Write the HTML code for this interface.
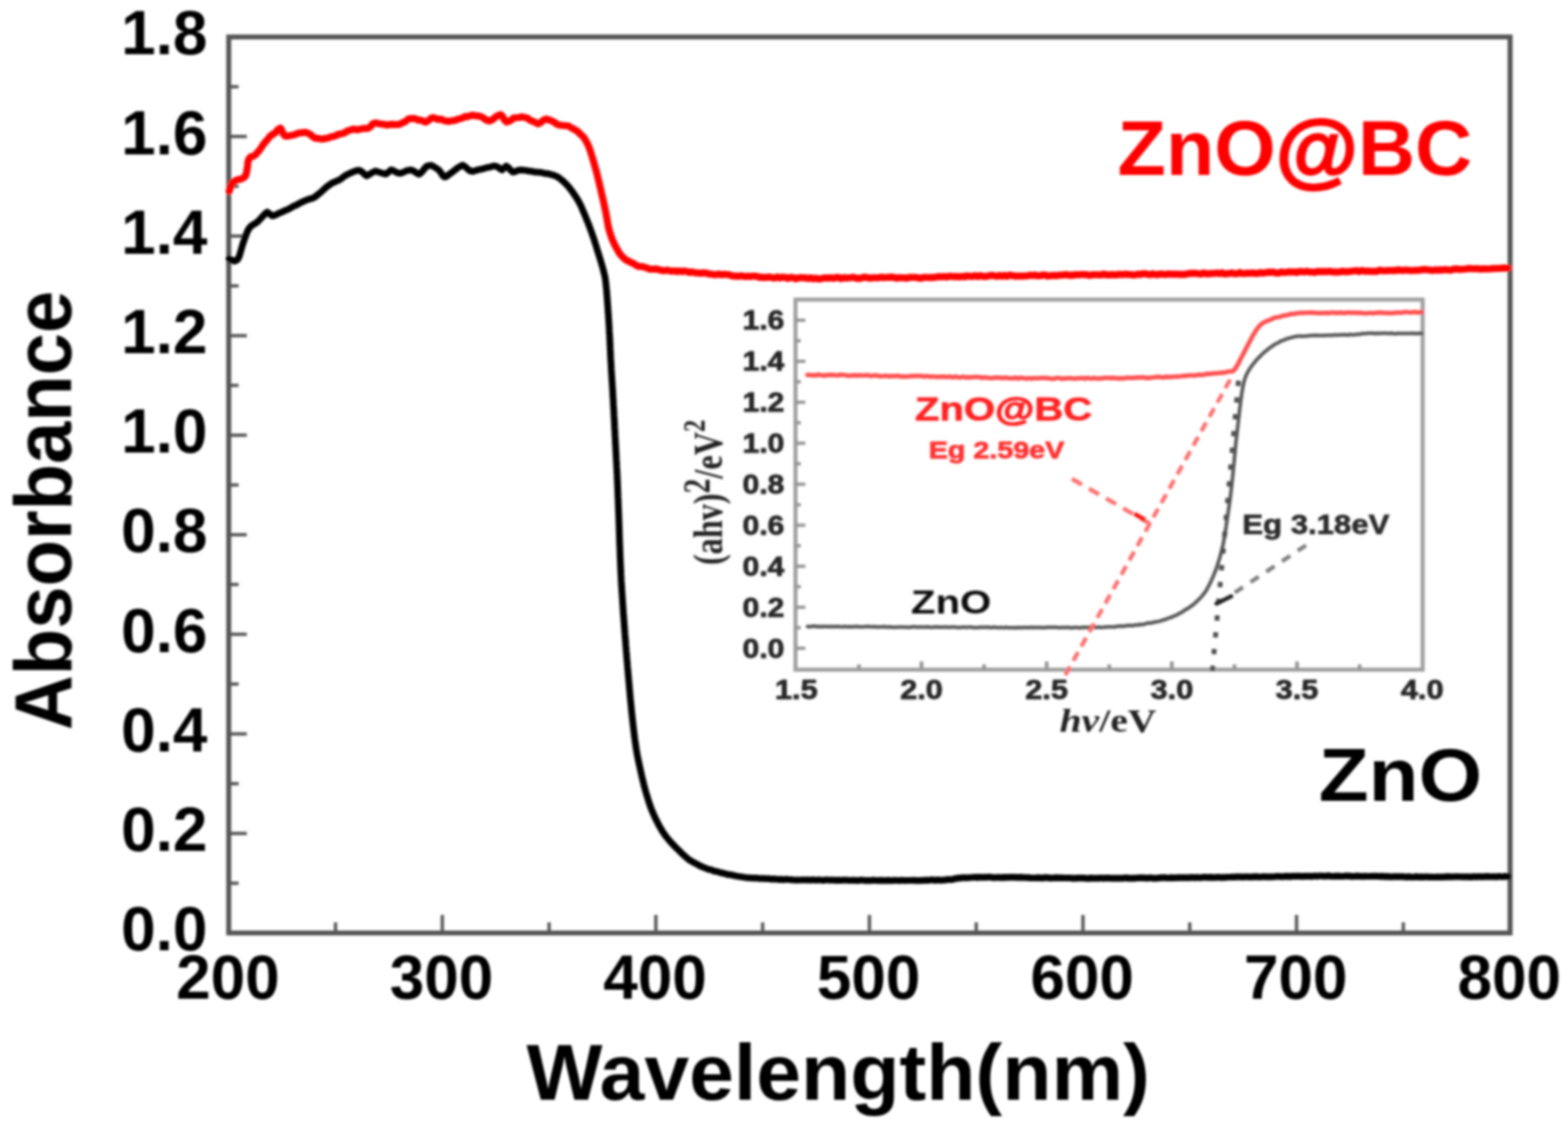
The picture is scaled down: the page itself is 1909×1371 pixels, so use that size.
<!DOCTYPE html><html><head><meta charset="utf-8"><title>Absorbance</title><style>html,body{margin:0;padding:0;background:#fff;}svg{display:block;}text{font-family:"Liberation Sans",Arial,sans-serif;font-weight:bold;}</style></head><body>
<svg width="1909" height="1371" viewBox="0 0 1909 1371">
<defs><filter id="bl" x="0" y="0" width="1909" height="1371" filterUnits="userSpaceOnUse"><feGaussianBlur stdDeviation="1.5"/></filter></defs>
<rect width="1909" height="1371" fill="#fff"/>
<g filter="url(#bl)">
<g><rect x="968.5" y="364.8" width="763.5" height="450.59999999999997" fill="none" stroke="#a0a0a0" stroke-width="5"/><line x1="968.5" y1="789.3" x2="980.5" y2="789.3" stroke="#959595" stroke-width="4"/><line x1="968.5" y1="764.3" x2="975.0" y2="764.3" stroke="#959595" stroke-width="4"/><line x1="968.5" y1="739.4" x2="980.5" y2="739.4" stroke="#959595" stroke-width="4"/><line x1="968.5" y1="714.4" x2="975.0" y2="714.4" stroke="#959595" stroke-width="4"/><line x1="968.5" y1="689.5" x2="980.5" y2="689.5" stroke="#959595" stroke-width="4"/><line x1="968.5" y1="664.5" x2="975.0" y2="664.5" stroke="#959595" stroke-width="4"/><line x1="968.5" y1="639.5" x2="980.5" y2="639.5" stroke="#959595" stroke-width="4"/><line x1="968.5" y1="614.6" x2="975.0" y2="614.6" stroke="#959595" stroke-width="4"/><line x1="968.5" y1="589.6" x2="980.5" y2="589.6" stroke="#959595" stroke-width="4"/><line x1="968.5" y1="564.7" x2="975.0" y2="564.7" stroke="#959595" stroke-width="4"/><line x1="968.5" y1="539.7" x2="980.5" y2="539.7" stroke="#959595" stroke-width="4"/><line x1="968.5" y1="514.7" x2="975.0" y2="514.7" stroke="#959595" stroke-width="4"/><line x1="968.5" y1="489.8" x2="980.5" y2="489.8" stroke="#959595" stroke-width="4"/><line x1="968.5" y1="464.8" x2="975.0" y2="464.8" stroke="#959595" stroke-width="4"/><line x1="968.5" y1="439.9" x2="980.5" y2="439.9" stroke="#959595" stroke-width="4"/><line x1="968.5" y1="414.9" x2="975.0" y2="414.9" stroke="#959595" stroke-width="4"/><line x1="968.5" y1="389.9" x2="980.5" y2="389.9" stroke="#959595" stroke-width="4"/><line x1="1045.7" y1="815.4" x2="1045.7" y2="808.9" stroke="#959595" stroke-width="4.5"/><line x1="1121.9" y1="815.4" x2="1121.9" y2="805.4" stroke="#959595" stroke-width="4.5"/><line x1="1198.1" y1="815.4" x2="1198.1" y2="808.9" stroke="#959595" stroke-width="4.5"/><line x1="1274.3" y1="815.4" x2="1274.3" y2="805.4" stroke="#959595" stroke-width="4.5"/><line x1="1350.5" y1="815.4" x2="1350.5" y2="808.9" stroke="#959595" stroke-width="4.5"/><line x1="1426.7" y1="815.4" x2="1426.7" y2="805.4" stroke="#959595" stroke-width="4.5"/><line x1="1502.9" y1="815.4" x2="1502.9" y2="808.9" stroke="#959595" stroke-width="4.5"/><line x1="1579.1" y1="815.4" x2="1579.1" y2="805.4" stroke="#959595" stroke-width="4.5"/><line x1="1655.3" y1="815.4" x2="1655.3" y2="808.9" stroke="#959595" stroke-width="4.5"/><text x="955" y="800.8" text-anchor="end" font-size="33" fill="#262626" stroke="#262626" stroke-width="0.9" textLength="51" lengthAdjust="spacingAndGlyphs">0.0</text><text x="955" y="750.9" text-anchor="end" font-size="33" fill="#262626" stroke="#262626" stroke-width="0.9" textLength="51" lengthAdjust="spacingAndGlyphs">0.2</text><text x="955" y="701.0" text-anchor="end" font-size="33" fill="#262626" stroke="#262626" stroke-width="0.9" textLength="51" lengthAdjust="spacingAndGlyphs">0.4</text><text x="955" y="651.0" text-anchor="end" font-size="33" fill="#262626" stroke="#262626" stroke-width="0.9" textLength="51" lengthAdjust="spacingAndGlyphs">0.6</text><text x="955" y="601.1" text-anchor="end" font-size="33" fill="#262626" stroke="#262626" stroke-width="0.9" textLength="51" lengthAdjust="spacingAndGlyphs">0.8</text><text x="955" y="551.2" text-anchor="end" font-size="33" fill="#262626" stroke="#262626" stroke-width="0.9" textLength="51" lengthAdjust="spacingAndGlyphs">1.0</text><text x="955" y="501.3" text-anchor="end" font-size="33" fill="#262626" stroke="#262626" stroke-width="0.9" textLength="51" lengthAdjust="spacingAndGlyphs">1.2</text><text x="955" y="451.4" text-anchor="end" font-size="33" fill="#262626" stroke="#262626" stroke-width="0.9" textLength="51" lengthAdjust="spacingAndGlyphs">1.4</text><text x="955" y="401.4" text-anchor="end" font-size="33" fill="#262626" stroke="#262626" stroke-width="0.9" textLength="51" lengthAdjust="spacingAndGlyphs">1.6</text><text x="969.5" y="850.5" text-anchor="middle" font-size="33" fill="#262626" stroke="#262626" stroke-width="0.9" textLength="52" lengthAdjust="spacingAndGlyphs">1.5</text><text x="1121.9" y="850.5" text-anchor="middle" font-size="33" fill="#262626" stroke="#262626" stroke-width="0.9" textLength="52" lengthAdjust="spacingAndGlyphs">2.0</text><text x="1274.3" y="850.5" text-anchor="middle" font-size="33" fill="#262626" stroke="#262626" stroke-width="0.9" textLength="52" lengthAdjust="spacingAndGlyphs">2.5</text><text x="1426.7" y="850.5" text-anchor="middle" font-size="33" fill="#262626" stroke="#262626" stroke-width="0.9" textLength="52" lengthAdjust="spacingAndGlyphs">3.0</text><text x="1579.1" y="850.5" text-anchor="middle" font-size="33" fill="#262626" stroke="#262626" stroke-width="0.9" textLength="52" lengthAdjust="spacingAndGlyphs">3.5</text><text x="1731.5" y="850.5" text-anchor="middle" font-size="33" fill="#262626" stroke="#262626" stroke-width="0.9" textLength="52" lengthAdjust="spacingAndGlyphs">4.0</text><path d="M983.0,456.4 L984.6,456.6 L986.2,456.7 L988.0,456.8 L990.0,457.0 L992.0,456.8 L994.1,457.1 L996.3,456.0 L998.6,456.6 L1001.1,457.2 L1003.6,456.9 L1006.2,457.2 L1008.9,456.3 L1011.6,456.7 L1014.5,456.5 L1017.4,456.9 L1020.4,457.0 L1023.4,456.3 L1026.5,456.6 L1029.7,456.8 L1032.9,457.6 L1036.2,457.4 L1039.5,456.7 L1042.9,457.5 L1046.3,456.8 L1049.8,457.4 L1053.3,456.9 L1056.8,456.8 L1060.3,457.9 L1063.9,457.1 L1067.5,457.2 L1071.1,458.2 L1074.7,458.1 L1078.3,457.4 L1081.9,458.3 L1085.5,457.8 L1089.2,458.1 L1092.8,457.5 L1096.4,458.5 L1100.0,458.2 L1102.6,458.6 L1105.3,458.6 L1108.0,457.9 L1110.8,458.0 L1113.6,457.8 L1116.5,457.8 L1119.4,457.8 L1122.3,458.1 L1125.3,458.5 L1128.3,457.9 L1131.3,458.7 L1134.4,458.4 L1137.5,458.4 L1140.6,459.1 L1143.8,458.7 L1147.0,458.6 L1150.2,458.8 L1153.4,459.1 L1156.6,458.4 L1159.8,459.6 L1163.1,458.5 L1166.4,459.4 L1169.6,459.6 L1172.9,458.7 L1176.2,459.7 L1179.5,459.2 L1182.8,459.5 L1186.0,458.9 L1189.3,459.0 L1192.6,459.2 L1195.8,460.2 L1199.1,459.3 L1202.3,460.1 L1205.5,460.3 L1208.7,460.4 L1211.9,459.7 L1215.0,459.8 L1218.1,460.0 L1221.2,460.4 L1224.3,459.6 L1227.3,460.5 L1230.3,460.6 L1233.3,460.7 L1236.2,459.7 L1239.1,460.9 L1242.0,459.9 L1244.8,460.2 L1247.5,460.6 L1250.2,461.0 L1252.9,460.3 L1255.5,461.0 L1258.1,460.6 L1260.6,460.4 L1263.0,460.4 L1267.0,460.2 L1270.9,460.2 L1274.8,460.3 L1278.5,460.9 L1282.2,461.3 L1285.8,460.3 L1289.3,460.2 L1292.8,461.3 L1296.1,460.8 L1299.4,460.6 L1302.7,460.4 L1305.8,460.8 L1308.9,461.1 L1312.0,460.6 L1315.0,460.6 L1317.9,460.1 L1320.8,461.1 L1323.7,460.0 L1326.5,460.6 L1329.2,461.0 L1332.0,460.1 L1334.6,460.8 L1337.3,461.0 L1339.9,460.6 L1342.5,460.7 L1345.0,459.9 L1347.6,460.3 L1350.1,459.9 L1352.6,460.7 L1355.1,460.0 L1357.5,460.2 L1360.0,460.8 L1363.8,460.6 L1367.5,460.7 L1371.1,460.0 L1374.5,460.0 L1377.8,460.3 L1381.0,459.9 L1384.1,459.6 L1387.1,459.7 L1390.1,459.4 L1392.9,459.6 L1395.7,460.3 L1398.5,460.2 L1401.2,459.7 L1403.9,459.5 L1406.5,459.2 L1409.2,458.8 L1411.9,458.9 L1414.6,459.5 L1417.3,459.5 L1420.0,458.7 L1423.5,459.1 L1426.9,458.9 L1430.4,458.6 L1433.8,458.4 L1437.2,458.3 L1440.6,457.6 L1443.9,457.8 L1447.2,457.1 L1450.4,457.1 L1453.6,457.2 L1456.6,456.9 L1459.6,456.1 L1462.5,456.7 L1465.2,456.1 L1467.8,455.8 L1470.3,454.9 L1474.4,455.2 L1478.2,454.5 L1481.7,454.6 L1484.9,454.0 L1487.9,454.0 L1490.5,453.5 L1492.9,453.3 L1495.1,452.4 L1497.1,452.4 L1501.5,451.7 L1503.8,449.0 L1505.2,446.6 L1506.8,444.1 L1508.4,441.1 L1510.2,437.6 L1512.0,434.1 L1513.9,430.5 L1515.3,427.8 L1516.7,425.0 L1518.2,422.0 L1519.8,419.1 L1521.4,416.0 L1523.0,412.9 L1524.5,410.2 L1525.9,407.6 L1527.3,405.4 L1529.4,401.9 L1531.2,399.5 L1533.0,397.3 L1534.9,395.4 L1537.3,393.4 L1539.6,392.2 L1542.1,391.1 L1544.8,389.9 L1547.6,389.0 L1550.7,387.2 L1554.1,386.4 L1556.7,386.0 L1559.4,385.5 L1562.2,384.3 L1565.1,384.1 L1568.2,383.4 L1571.5,382.2 L1575.2,382.2 L1579.2,381.5 L1581.8,381.1 L1584.6,381.0 L1587.6,381.1 L1590.6,380.8 L1593.7,380.8 L1596.9,380.5 L1600.2,381.0 L1603.6,380.9 L1607.0,381.2 L1610.5,381.2 L1614.0,380.7 L1617.6,381.5 L1621.1,380.4 L1624.0,380.9 L1626.9,380.7 L1629.9,380.9 L1632.9,380.5 L1635.9,381.4 L1638.9,380.8 L1642.0,380.4 L1645.1,381.1 L1648.3,380.5 L1651.5,381.1 L1654.7,380.8 L1658.0,381.1 L1661.3,381.6 L1664.6,381.4 L1668.0,380.9 L1671.4,381.4 L1674.4,381.1 L1677.6,380.8 L1680.9,380.5 L1684.4,381.0 L1687.9,380.9 L1691.6,381.3 L1695.2,381.3 L1698.9,380.8 L1702.5,380.4 L1706.1,381.0 L1709.6,379.9 L1713.0,379.9 L1716.3,380.4 L1719.3,380.4 L1722.2,379.8 L1724.8,380.4 L1727.2,380.6 L1729.3,380.0 L1731.0,380.1" fill="none" stroke="#ff5050" stroke-width="5.5" stroke-linejoin="round" stroke-linecap="round"/><path d="M983.2,762.7 L984.7,762.9 L986.4,763.0 L988.1,762.7 L989.9,762.5 L991.8,762.3 L993.7,762.9 L995.7,762.7 L997.8,763.0 L1000.0,762.7 L1002.3,763.0 L1004.6,762.6 L1007.0,763.1 L1009.4,763.0 L1011.9,762.8 L1014.5,762.9 L1017.1,763.0 L1019.8,762.7 L1022.6,763.0 L1025.4,763.2 L1028.2,762.8 L1031.1,763.2 L1034.1,763.1 L1037.1,763.3 L1040.1,762.9 L1043.2,762.7 L1046.4,763.3 L1049.6,763.3 L1052.8,763.1 L1056.0,762.8 L1059.3,762.9 L1062.6,763.3 L1066.0,763.0 L1069.4,763.6 L1072.8,763.3 L1076.3,763.0 L1079.7,763.4 L1083.2,763.2 L1086.7,763.7 L1090.3,763.7 L1093.8,763.4 L1097.4,763.5 L1101.0,763.6 L1104.6,763.7 L1108.2,763.8 L1111.8,763.1 L1115.4,763.4 L1119.0,763.6 L1122.7,763.4 L1126.3,763.6 L1129.9,763.2 L1133.6,763.9 L1137.2,763.6 L1140.8,763.3 L1144.4,763.8 L1148.1,763.5 L1151.7,763.4 L1155.2,763.7 L1158.8,763.4 L1162.4,763.5 L1165.9,764.0 L1169.5,763.9 L1173.0,763.4 L1176.4,764.0 L1179.9,763.4 L1183.3,763.7 L1186.8,764.2 L1190.1,764.0 L1193.5,763.7 L1196.8,763.8 L1200.1,763.8 L1203.3,763.6 L1206.5,764.3 L1209.7,763.6 L1212.8,763.9 L1215.9,764.2 L1218.9,763.9 L1221.9,764.4 L1224.9,763.8 L1227.8,764.4 L1230.6,764.3 L1233.4,764.2 L1236.1,764.4 L1238.8,764.0 L1241.4,764.3 L1244.0,764.3 L1246.5,764.1 L1248.9,764.1 L1251.2,764.3 L1253.5,764.0 L1255.8,763.8 L1257.9,764.3 L1260.0,763.9 L1265.6,764.1 L1270.9,764.3 L1275.9,763.8 L1280.7,763.7 L1285.2,763.8 L1289.5,764.2 L1293.6,764.0 L1297.5,763.9 L1301.2,764.1 L1304.7,764.4 L1308.1,763.9 L1311.3,764.0 L1314.3,764.4 L1317.2,764.1 L1319.9,763.8 L1322.6,764.0 L1325.1,763.9 L1327.5,763.6 L1329.9,763.8 L1332.1,763.7 L1334.3,764.1 L1336.5,763.6 L1338.5,763.8 L1340.6,764.0 L1342.6,763.9 L1344.7,763.4 L1346.7,763.5 L1348.7,763.2 L1350.7,763.2 L1352.8,763.2 L1354.9,763.3 L1357.1,763.4 L1359.3,762.7 L1363.8,762.3 L1368.0,762.4 L1372.0,761.8 L1375.7,761.4 L1379.1,761.7 L1382.4,760.9 L1385.5,761.0 L1388.5,760.3 L1391.3,760.4 L1393.9,759.9 L1396.5,758.8 L1399.1,758.5 L1401.5,758.6 L1404.0,757.8 L1406.4,757.2 L1408.9,756.9 L1412.7,756.1 L1416.2,754.9 L1419.4,754.0 L1422.4,752.7 L1425.3,751.9 L1428.0,750.6 L1430.7,749.7 L1433.3,748.4 L1435.9,746.8 L1438.6,745.6 L1441.3,743.7 L1444.0,742.0 L1446.7,740.5 L1449.4,738.5 L1452.0,736.8 L1454.5,734.6 L1456.9,732.6 L1459.2,730.1 L1461.4,728.1 L1463.5,725.6 L1465.4,723.3 L1467.2,720.9 L1468.9,718.3 L1470.4,715.6 L1471.9,712.8 L1473.3,710.1 L1474.6,707.2 L1475.9,704.3 L1477.2,701.4 L1478.4,698.4 L1479.5,695.7 L1480.6,692.9 L1481.6,690.1 L1482.5,687.2 L1483.4,684.3 L1484.3,681.4 L1485.2,678.4 L1486.0,675.4 L1486.8,672.3 L1487.6,669.3 L1488.3,666.1 L1489.0,663.2 L1489.6,660.2 L1490.1,657.2 L1490.7,654.1 L1491.2,651.0 L1491.7,647.8 L1492.2,644.6 L1492.7,641.5 L1493.1,638.3 L1493.6,635.2 L1494.0,632.0 L1494.5,628.9 L1495.0,625.8 L1495.4,622.8 L1495.8,619.9 L1496.3,617.0 L1496.7,614.0 L1497.1,611.1 L1497.5,608.1 L1497.9,605.0 L1498.3,601.9 L1498.7,598.6 L1499.1,595.2 L1499.5,591.7 L1499.8,588.9 L1500.1,586.0 L1500.4,582.9 L1500.8,579.7 L1501.1,576.5 L1501.4,573.2 L1501.7,569.9 L1502.0,566.5 L1502.4,563.2 L1502.7,559.9 L1503.0,556.6 L1503.3,553.5 L1503.6,550.4 L1503.9,547.5 L1504.1,544.6 L1504.4,542.0 L1504.8,538.0 L1505.2,534.4 L1505.6,530.9 L1506.0,527.6 L1506.3,524.5 L1506.7,521.4 L1507.0,518.5 L1507.3,515.7 L1507.7,512.8 L1508.0,510.0 L1508.4,506.5 L1508.8,503.1 L1509.1,499.9 L1509.5,496.8 L1509.9,493.7 L1510.2,490.7 L1510.6,487.8 L1511.0,485.0 L1511.5,481.3 L1512.0,477.8 L1512.6,474.3 L1513.1,471.1 L1513.8,468.0 L1514.5,465.0 L1515.4,461.8 L1516.4,458.9 L1517.5,456.1 L1518.9,453.5 L1520.6,450.4 L1522.1,448.2 L1523.8,445.7 L1525.7,443.3 L1527.6,440.9 L1529.7,438.3 L1531.8,436.1 L1534.0,434.0 L1536.2,431.6 L1538.4,429.6 L1540.7,427.7 L1543.1,425.8 L1545.6,423.6 L1548.1,422.1 L1550.7,420.1 L1553.4,418.5 L1556.1,417.5 L1558.9,415.4 L1561.7,414.6 L1564.7,413.3 L1567.7,412.2 L1570.9,411.3 L1573.7,410.6 L1576.4,409.8 L1579.2,409.6 L1582.1,409.1 L1585.1,409.4 L1588.4,409.2 L1592.0,409.0 L1596.0,408.4 L1598.7,408.6 L1601.6,408.2 L1604.7,408.6 L1607.9,408.5 L1611.3,408.6 L1614.7,408.3 L1618.2,408.3 L1621.6,408.3 L1625.1,407.7 L1628.5,408.1 L1631.7,407.6 L1634.9,407.8 L1637.9,407.5 L1641.2,408.0 L1644.1,407.1 L1646.9,407.7 L1649.6,407.5 L1652.2,406.9 L1654.9,407.1 L1657.6,406.3 L1660.6,406.2 L1663.8,405.9 L1667.4,405.8 L1671.4,405.7 L1674.0,406.3 L1676.9,405.7 L1680.0,406.1 L1683.3,405.8 L1686.7,405.7 L1690.3,405.9 L1694.0,405.7 L1697.7,406.4 L1701.4,405.9 L1705.1,406.1 L1708.8,406.1 L1712.3,406.1 L1715.7,406.0 L1718.9,405.9 L1721.9,405.8 L1724.7,406.4 L1727.1,405.8 L1729.2,406.1 L1731.0,406.1" fill="none" stroke="#5a5a5a" stroke-width="4.5" stroke-linejoin="round" stroke-linecap="round"/><line x1="1297" y1="822" x2="1500" y2="458" stroke="#ff7070" stroke-width="5" stroke-dasharray="12 8"/><line x1="1305" y1="583" x2="1404" y2="640" stroke="#ff7070" stroke-width="5" stroke-dasharray="14 10"/><line x1="1381" y1="625.5" x2="1394" y2="633" stroke="#ff1010" stroke-width="5"/><line x1="1476" y1="817" x2="1508" y2="462" stroke="#505050" stroke-width="6" stroke-dasharray="6.5 14"/><line x1="1590" y1="664" x2="1498" y2="725" stroke="#808080" stroke-width="5" stroke-dasharray="12 11"/><line x1="1499" y1="726" x2="1481" y2="735" stroke="#222" stroke-width="5" stroke-linecap="round"/><text x="1113.8" y="512" font-size="41" fill="#ff2020" stroke="#ff2020" stroke-width="0.6" textLength="216" lengthAdjust="spacingAndGlyphs">ZnO<tspan stroke-width="1.4">@</tspan>BC</text><text x="1130.8" y="558" font-size="29" fill="#ff3030" stroke="#ff3030" stroke-width="0.9" textLength="165" lengthAdjust="spacingAndGlyphs">Eg 2.59eV</text><text x="1512.5" y="650" font-size="33" fill="#2a2a2a" stroke="#2a2a2a" stroke-width="0.8" textLength="179" lengthAdjust="spacingAndGlyphs">Eg 3.18eV</text><text x="1109" y="747" font-size="41" fill="#111" textLength="98" lengthAdjust="spacingAndGlyphs">ZnO</text><text x="1290" y="891" font-family="Liberation Serif,serif" font-size="40" fill="#222" textLength="118" lengthAdjust="spacingAndGlyphs" style="font-family:'Liberation Serif',serif"><tspan font-style="italic">hv</tspan>/eV</text><text transform="translate(879,688) rotate(-90)" font-size="50" fill="#222" style="font-family:'Liberation Serif',serif" textLength="177" lengthAdjust="spacingAndGlyphs">(ahv)<tspan dy="-15" font-size="46">2</tspan><tspan dy="15">/eV</tspan><tspan dy="-21" font-size="38">2</tspan></text></g>
<rect x="278.5" y="45.0" width="1560.0" height="1091.0" fill="none" stroke="#555" stroke-width="6"/>
<line x1="278.5" y1="1075.4" x2="290.5" y2="1075.4" stroke="#555" stroke-width="4"/>
<line x1="278.5" y1="1014.8" x2="300.5" y2="1014.8" stroke="#555" stroke-width="4"/>
<line x1="278.5" y1="954.2" x2="290.5" y2="954.2" stroke="#555" stroke-width="4"/>
<line x1="278.5" y1="893.6" x2="300.5" y2="893.6" stroke="#555" stroke-width="4"/>
<line x1="278.5" y1="832.9" x2="290.5" y2="832.9" stroke="#555" stroke-width="4"/>
<line x1="278.5" y1="772.3" x2="300.5" y2="772.3" stroke="#555" stroke-width="4"/>
<line x1="278.5" y1="711.7" x2="290.5" y2="711.7" stroke="#555" stroke-width="4"/>
<line x1="278.5" y1="651.1" x2="300.5" y2="651.1" stroke="#555" stroke-width="4"/>
<line x1="278.5" y1="590.5" x2="290.5" y2="590.5" stroke="#555" stroke-width="4"/>
<line x1="278.5" y1="529.9" x2="300.5" y2="529.9" stroke="#555" stroke-width="4"/>
<line x1="278.5" y1="469.3" x2="290.5" y2="469.3" stroke="#555" stroke-width="4"/>
<line x1="278.5" y1="408.7" x2="300.5" y2="408.7" stroke="#555" stroke-width="4"/>
<line x1="278.5" y1="348.1" x2="290.5" y2="348.1" stroke="#555" stroke-width="4"/>
<line x1="278.5" y1="287.4" x2="300.5" y2="287.4" stroke="#555" stroke-width="4"/>
<line x1="278.5" y1="226.8" x2="290.5" y2="226.8" stroke="#555" stroke-width="4"/>
<line x1="278.5" y1="166.2" x2="300.5" y2="166.2" stroke="#555" stroke-width="4"/>
<line x1="278.5" y1="105.6" x2="290.5" y2="105.6" stroke="#555" stroke-width="4"/>
<line x1="408.5" y1="1136.0" x2="408.5" y2="1123.0" stroke="#555" stroke-width="4"/>
<line x1="538.5" y1="1136.0" x2="538.5" y2="1114.0" stroke="#555" stroke-width="4"/>
<line x1="668.5" y1="1136.0" x2="668.5" y2="1123.0" stroke="#555" stroke-width="4"/>
<line x1="798.5" y1="1136.0" x2="798.5" y2="1114.0" stroke="#555" stroke-width="4"/>
<line x1="928.5" y1="1136.0" x2="928.5" y2="1123.0" stroke="#555" stroke-width="4"/>
<line x1="1058.5" y1="1136.0" x2="1058.5" y2="1114.0" stroke="#555" stroke-width="4"/>
<line x1="1188.5" y1="1136.0" x2="1188.5" y2="1123.0" stroke="#555" stroke-width="4"/>
<line x1="1318.5" y1="1136.0" x2="1318.5" y2="1114.0" stroke="#555" stroke-width="4"/>
<line x1="1448.5" y1="1136.0" x2="1448.5" y2="1123.0" stroke="#555" stroke-width="4"/>
<line x1="1578.5" y1="1136.0" x2="1578.5" y2="1114.0" stroke="#555" stroke-width="4"/>
<line x1="1708.5" y1="1136.0" x2="1708.5" y2="1123.0" stroke="#555" stroke-width="4"/>
<text x="252.5" y="1157.3" text-anchor="end" font-size="75.5" fill="#000">0.0</text>
<text x="252.5" y="1036.1" text-anchor="end" font-size="75.5" fill="#000">0.2</text>
<text x="252.5" y="914.9" text-anchor="end" font-size="75.5" fill="#000">0.4</text>
<text x="252.5" y="793.6" text-anchor="end" font-size="75.5" fill="#000">0.6</text>
<text x="252.5" y="672.4" text-anchor="end" font-size="75.5" fill="#000">0.8</text>
<text x="252.5" y="551.2" text-anchor="end" font-size="75.5" fill="#000">1.0</text>
<text x="252.5" y="430.0" text-anchor="end" font-size="75.5" fill="#000">1.2</text>
<text x="252.5" y="308.7" text-anchor="end" font-size="75.5" fill="#000">1.4</text>
<text x="252.5" y="187.5" text-anchor="end" font-size="75.5" fill="#000">1.6</text>
<text x="252.5" y="66.3" text-anchor="end" font-size="75.5" fill="#000">1.8</text>
<text x="277.5" y="1215.6" text-anchor="middle" font-size="75.5" fill="#000">200</text>
<text x="537.5" y="1215.6" text-anchor="middle" font-size="75.5" fill="#000">300</text>
<text x="797.5" y="1215.6" text-anchor="middle" font-size="75.5" fill="#000">400</text>
<text x="1057.5" y="1215.6" text-anchor="middle" font-size="75.5" fill="#000">500</text>
<text x="1317.5" y="1215.6" text-anchor="middle" font-size="75.5" fill="#000">600</text>
<text x="1577.5" y="1215.6" text-anchor="middle" font-size="75.5" fill="#000">700</text>
<text x="1837.5" y="1215.6" text-anchor="middle" font-size="75.5" fill="#000">800</text>
<text x="641" y="1338.5" font-size="97" fill="#000" textLength="759" lengthAdjust="spacingAndGlyphs">Wavelength(nm)</text>
<text transform="translate(86.5,889) rotate(-90)" font-size="99" fill="#000" textLength="535" lengthAdjust="spacingAndGlyphs">Absorbance</text>
<text x="1360.5" y="213" font-size="95" fill="#ff0000" textLength="432" lengthAdjust="spacingAndGlyphs">ZnO<tspan font-size="101" stroke="#ff0000" stroke-width="2.6" dy="3">@</tspan><tspan dy="-3">BC</tspan></text>
<text x="1605.5" y="975.4" font-size="91" fill="#000" textLength="199" lengthAdjust="spacingAndGlyphs">ZnO</text>
<path d="M279.0,233.0 L280.0,229.8 L281.4,225.5 L283.0,222.2 L288.0,219.2 L291.2,218.5 L295.0,217.3 L298.0,215.6 L299.6,212.6 L300.3,208.8 L301.0,205.0 L301.5,201.0 L301.9,196.9 L303.0,193.6 L305.2,191.0 L308.0,190.3 L311.0,188.6 L313.2,185.8 L315.5,183.3 L317.8,180.2 L320.0,176.7 L322.2,173.9 L324.4,171.3 L326.4,169.0 L328.4,166.4 L331.8,163.6 L335.0,161.9 L338.3,157.8 L341.5,155.9 L343.2,158.8 L344.8,163.1 L347.3,165.7 L350.1,165.8 L353.5,165.1 L357.1,164.4 L360.5,163.3 L364.4,161.7 L368.1,161.6 L372.1,161.1 L374.8,162.3 L377.8,163.6 L380.8,166.5 L383.8,168.3 L386.7,168.4 L390.0,169.1 L393.2,169.3 L396.4,168.5 L400.0,168.0 L402.8,166.5 L405.8,166.2 L409.0,165.0 L412.2,163.5 L415.0,162.9 L417.5,162.5 L420.6,161.1 L422.7,159.5 L426.3,158.6 L428.9,157.4 L432.0,157.4 L435.5,158.0 L439.0,157.1 L442.5,156.4 L445.6,156.5 L448.1,156.2 L451.4,154.0 L453.1,151.2 L456.0,149.7 L458.5,149.8 L461.4,150.7 L464.6,151.0 L467.9,151.5 L471.3,152.2 L474.4,151.6 L478.1,151.4 L481.9,151.8 L485.6,151.5 L489.0,150.0 L491.9,148.8 L495.2,146.6 L497.4,144.7 L500.7,144.4 L503.2,144.3 L506.2,144.7 L509.5,146.3 L512.7,146.4 L515.7,147.7 L518.2,148.7 L521.4,147.0 L523.7,144.8 L526.9,143.2 L529.9,144.0 L533.4,145.4 L537.1,145.0 L540.9,147.1 L544.4,147.6 L547.7,147.6 L551.0,146.9 L554.1,146.4 L557.1,145.2 L560.0,144.6 L563.2,143.5 L566.1,141.9 L568.9,142.1 L571.9,141.1 L575.2,140.3 L578.5,140.9 L581.9,141.2 L585.0,141.7 L588.6,143.6 L591.8,146.2 L595.5,147.3 L598.2,146.4 L601.2,144.4 L604.2,141.9 L607.1,140.4 L609.5,139.6 L612.2,142.2 L614.0,146.0 L616.5,148.4 L619.2,147.9 L622.3,146.2 L625.5,143.6 L628.8,143.3 L632.0,142.9 L635.3,142.3 L638.6,142.9 L641.9,143.8 L645.2,146.3 L648.6,147.7 L651.9,149.2 L655.0,150.8 L658.5,149.1 L661.7,146.1 L665.5,144.9 L668.4,146.1 L671.7,147.2 L675.1,149.1 L678.4,151.4 L681.3,152.3 L685.0,152.7 L688.1,153.0 L691.7,153.2 L694.5,155.0 L697.6,156.7 L700.8,158.4 L703.9,160.5 L706.6,163.5 L708.8,165.3 L710.7,167.3 L712.4,169.9 L714.1,172.9 L715.8,176.2 L716.8,178.5 L717.8,181.2 L718.8,184.1 L719.7,187.0 L720.7,190.2 L721.6,193.3 L722.6,196.4 L723.4,199.5 L724.3,202.6 L725.1,205.5 L725.9,208.3 L726.7,211.2 L727.4,214.2 L728.1,217.1 L728.8,220.0 L729.5,222.9 L730.2,225.9 L730.9,228.8 L731.7,232.1 L732.4,235.4 L733.2,238.7 L733.9,241.9 L734.7,245.3 L735.4,248.5 L736.1,251.8 L736.8,255.1 L737.5,258.4 L738.1,261.8 L738.7,265.2 L739.3,268.7 L739.9,272.0 L740.5,275.3 L741.2,278.5 L742.0,281.4 L743.0,284.6 L744.0,287.7 L745.1,290.7 L746.3,293.5 L747.5,296.1 L748.7,298.6 L749.9,300.9 L751.6,304.0 L753.4,307.1 L755.2,309.7 L757.1,311.9 L759.1,313.8 L761.9,316.5 L764.9,317.8 L767.9,319.5 L770.9,320.6 L774.4,323.0 L777.8,324.5 L782.0,324.5 L784.6,325.3 L787.5,326.1 L790.6,327.6 L793.8,327.7 L797.0,327.5 L800.0,327.6 L803.2,328.7 L806.0,329.3 L808.9,329.6 L812.3,328.9 L816.7,330.1 L819.0,330.0 L821.5,329.8 L824.1,330.8 L826.8,329.8 L829.6,330.8 L832.6,330.0 L835.8,330.4 L839.1,331.8 L842.6,331.0 L846.2,332.1 L850.0,332.2 L852.5,332.7 L855.1,332.2 L857.8,332.4 L860.5,332.6 L863.2,333.7 L866.0,333.6 L868.9,334.4 L871.9,334.5 L874.9,333.6 L878.0,334.5 L881.2,334.1 L884.5,334.2 L887.9,334.5 L891.3,336.0 L894.9,336.1 L898.6,336.4 L902.4,335.8 L905.0,336.4 L907.6,336.8 L910.3,336.3 L913.1,336.7 L915.9,336.3 L918.8,336.2 L921.7,336.6 L924.7,337.8 L927.7,337.4 L930.7,338.1 L933.8,337.5 L936.9,337.3 L940.1,338.2 L943.2,338.4 L946.4,337.2 L949.6,338.4 L952.8,337.5 L956.0,337.7 L959.2,339.0 L962.3,337.7 L965.5,338.1 L968.7,339.4 L971.8,338.5 L974.9,338.1 L978.0,338.2 L981.0,338.4 L984.0,339.2 L987.1,338.2 L990.1,339.5 L993.2,338.7 L996.3,339.6 L999.4,339.5 L1002.5,338.5 L1005.6,338.4 L1008.7,338.7 L1011.8,338.1 L1014.9,338.9 L1018.0,337.9 L1021.1,337.8 L1024.1,339.3 L1027.2,338.1 L1030.3,338.6 L1033.3,338.3 L1036.3,338.0 L1039.3,337.6 L1042.3,338.9 L1045.2,338.9 L1048.1,338.9 L1051.0,337.5 L1053.9,337.6 L1056.7,338.2 L1059.5,338.8 L1062.9,338.1 L1066.2,338.3 L1069.5,338.2 L1072.8,337.6 L1076.0,338.1 L1079.2,337.7 L1082.3,337.6 L1085.4,337.4 L1088.5,337.7 L1091.5,338.8 L1094.6,338.0 L1097.6,338.3 L1100.6,338.3 L1103.6,338.8 L1106.7,337.9 L1109.7,337.8 L1112.7,337.8 L1115.8,337.8 L1118.8,338.6 L1121.9,338.7 L1125.0,337.7 L1128.1,337.7 L1131.2,338.0 L1134.2,337.9 L1137.3,337.9 L1140.3,337.2 L1143.3,336.8 L1146.4,337.1 L1149.4,336.7 L1152.4,337.3 L1155.4,336.5 L1158.5,336.4 L1161.5,337.1 L1164.6,336.5 L1167.7,337.2 L1170.8,336.6 L1174.0,337.1 L1177.2,335.9 L1180.5,336.3 L1183.8,336.7 L1187.1,335.5 L1190.5,336.8 L1193.3,335.5 L1196.1,336.4 L1199.0,336.7 L1201.9,336.4 L1204.9,335.6 L1207.9,335.2 L1210.9,335.9 L1213.9,336.5 L1217.0,335.4 L1220.1,336.4 L1223.2,335.2 L1226.3,336.4 L1229.4,334.9 L1232.5,335.4 L1235.6,336.3 L1238.8,336.1 L1241.9,336.3 L1245.0,336.1 L1248.1,336.0 L1251.1,335.8 L1254.2,335.0 L1257.2,335.4 L1260.2,334.9 L1263.2,335.8 L1266.1,335.7 L1269.0,335.0 L1272.2,334.7 L1275.1,336.1 L1278.0,335.8 L1280.7,335.4 L1283.3,335.3 L1285.9,335.8 L1288.4,335.1 L1290.9,335.0 L1293.3,334.9 L1295.8,334.7 L1298.3,334.3 L1300.9,335.3 L1303.6,334.9 L1306.3,335.1 L1309.2,334.3 L1312.3,334.7 L1315.5,334.3 L1319.0,334.2 L1322.6,334.4 L1326.6,335.3 L1330.7,334.5 L1335.2,334.5 L1340.0,334.8 L1342.2,334.1 L1344.5,333.8 L1346.9,334.6 L1349.3,334.5 L1351.7,334.7 L1354.2,334.3 L1356.8,334.7 L1359.4,334.7 L1362.1,333.9 L1364.8,334.3 L1367.6,334.2 L1370.4,333.8 L1373.2,334.1 L1376.1,334.3 L1379.0,334.8 L1382.0,334.8 L1384.9,333.7 L1388.0,334.3 L1391.0,333.3 L1394.1,333.3 L1397.2,334.0 L1400.4,334.5 L1403.5,333.3 L1406.7,334.3 L1409.9,334.4 L1413.1,333.5 L1416.3,334.0 L1419.6,334.2 L1422.8,333.4 L1426.1,333.9 L1429.4,333.9 L1432.7,333.7 L1436.0,334.1 L1439.3,334.1 L1442.6,334.1 L1445.9,333.5 L1449.1,332.8 L1452.4,332.9 L1455.7,332.8 L1459.0,333.3 L1462.3,333.6 L1465.5,332.4 L1468.7,333.4 L1472.0,333.4 L1475.2,332.8 L1478.4,333.0 L1481.5,332.4 L1484.7,333.2 L1487.8,332.1 L1490.9,333.6 L1494.0,333.2 L1497.0,332.9 L1500.0,332.3 L1503.1,333.3 L1506.1,333.3 L1509.2,331.9 L1512.3,332.9 L1515.4,333.0 L1518.6,332.6 L1521.7,332.7 L1524.9,332.2 L1528.0,332.9 L1531.2,332.9 L1534.4,331.9 L1537.5,332.6 L1540.7,331.9 L1543.9,331.4 L1547.1,331.6 L1550.3,331.3 L1553.5,332.5 L1556.7,332.5 L1559.9,331.1 L1563.1,331.8 L1566.2,331.5 L1569.4,330.9 L1572.6,331.2 L1575.8,331.0 L1578.9,331.8 L1582.1,330.5 L1585.2,330.8 L1588.3,331.1 L1591.4,330.4 L1594.5,331.3 L1597.6,331.2 L1600.7,331.6 L1603.7,330.5 L1606.8,330.6 L1609.8,330.9 L1612.8,330.4 L1615.7,330.9 L1618.7,330.3 L1621.6,331.0 L1624.5,331.1 L1627.3,331.1 L1630.2,331.3 L1633.0,330.5 L1635.8,330.4 L1638.5,330.9 L1641.2,330.8 L1643.9,330.4 L1646.6,330.0 L1649.2,329.8 L1651.8,329.5 L1654.3,330.6 L1658.1,329.4 L1661.9,330.4 L1665.6,330.0 L1669.2,330.6 L1672.8,330.2 L1676.3,330.5 L1679.7,329.1 L1683.1,329.6 L1686.5,329.7 L1689.8,329.2 L1693.0,329.5 L1696.3,329.2 L1699.4,329.4 L1702.5,328.5 L1705.6,329.2 L1708.7,329.1 L1711.7,328.9 L1714.6,329.0 L1717.6,329.5 L1720.5,329.3 L1723.4,329.0 L1726.2,329.2 L1729.0,328.7 L1731.8,328.4 L1734.6,328.0 L1737.4,328.4 L1740.1,328.8 L1742.9,329.2 L1745.6,329.1 L1748.3,328.5 L1751.0,329.2 L1753.6,328.4 L1756.3,328.9 L1759.0,328.2 L1762.6,328.6 L1766.3,328.9 L1770.0,327.7 L1773.7,327.4 L1777.4,328.1 L1781.1,327.8 L1784.7,327.4 L1788.4,326.8 L1792.0,327.3 L1795.5,327.3 L1799.0,327.1 L1802.4,327.8 L1805.7,327.2 L1808.9,327.4 L1812.1,327.5 L1815.1,327.2 L1818.0,326.7 L1820.8,327.0 L1823.5,326.8 L1826.0,326.7 L1828.3,326.6 L1830.5,326.2 L1832.5,326.5 L1834.4,326.5 L1836.0,326.2" fill="none" stroke="#ff0000" stroke-width="8.6" stroke-linejoin="round" stroke-linecap="round"/>
<path d="M279.0,315.0 L281.7,316.5 L285.5,318.0 L289.0,316.3 L290.2,314.5 L291.3,311.9 L292.3,308.7 L293.3,305.2 L294.3,301.5 L295.3,298.1 L296.3,295.0 L297.5,291.7 L298.6,288.4 L299.8,285.3 L301.0,282.4 L302.2,279.7 L303.6,277.5 L305.9,275.1 L308.4,273.3 L311.1,271.9 L313.8,269.9 L316.1,267.5 L318.6,264.7 L321.1,262.1 L323.4,259.7 L325.4,258.3 L328.3,260.3 L331.3,262.8 L333.7,262.4 L336.6,261.2 L339.7,259.6 L343.0,258.3 L345.7,256.9 L348.6,255.7 L351.6,254.4 L354.6,252.7 L357.6,250.9 L360.6,249.8 L363.5,248.2 L366.5,246.6 L369.4,245.3 L372.1,244.0 L375.1,242.9 L377.8,242.0 L380.5,241.4 L383.8,239.6 L386.0,237.6 L388.5,235.8 L391.2,233.5 L393.9,231.0 L396.5,228.6 L399.0,226.5 L401.3,225.0 L404.7,222.7 L407.6,221.6 L410.4,220.2 L413.1,219.1 L415.7,217.4 L418.2,215.3 L420.8,213.5 L423.6,212.1 L427.0,210.5 L430.7,208.9 L434.4,207.6 L437.6,207.4 L440.9,209.3 L443.5,212.0 L446.4,214.0 L449.7,212.3 L453.1,210.2 L456.9,208.3 L460.2,209.2 L463.7,210.3 L467.2,211.4 L470.0,211.9 L473.3,209.3 L476.1,206.8 L478.9,207.6 L482.0,209.7 L485.8,211.0 L488.5,210.8 L491.6,209.5 L494.9,207.9 L498.0,207.3 L500.7,206.9 L504.2,208.5 L507.2,210.8 L510.3,212.1 L512.5,210.4 L514.7,208.1 L517.0,205.1 L519.3,202.6 L521.7,201.7 L524.8,201.3 L528.1,202.9 L531.2,204.9 L533.9,206.6 L536.6,209.8 L538.7,213.4 L540.9,215.4 L543.2,215.2 L545.7,213.1 L548.8,210.9 L551.3,209.0 L554.3,206.8 L557.4,204.1 L560.4,202.6 L563.1,201.1 L566.5,203.0 L569.4,206.0 L572.8,208.2 L576.0,208.7 L579.4,207.5 L583.1,206.5 L586.8,205.9 L589.9,205.0 L593.3,203.8 L596.6,203.5 L599.8,202.3 L602.5,202.0 L606.1,203.4 L608.9,205.7 L611.3,206.9 L614.0,204.2 L616.5,202.2 L618.9,204.0 L621.6,207.2 L624.4,209.5 L626.9,209.1 L629.6,207.8 L633.2,206.9 L636.2,207.2 L639.8,207.5 L643.6,208.1 L647.3,208.6 L650.7,209.4 L654.3,209.6 L657.5,209.8 L660.6,210.4 L663.8,211.3 L667.2,211.4 L670.6,212.5 L673.9,213.3 L676.9,214.5 L680.1,216.1 L682.9,218.5 L685.7,220.6 L687.9,222.8 L690.1,225.0 L692.3,227.4 L694.6,230.4 L696.5,232.9 L698.5,235.8 L700.5,238.8 L702.4,241.8 L704.0,244.4 L705.8,247.7 L707.2,250.5 L709.2,255.2 L710.1,257.4 L711.2,259.9 L712.4,262.7 L713.6,265.7 L714.9,268.8 L716.2,272.1 L717.4,275.3 L718.6,278.4 L719.7,281.4 L720.7,284.3 L721.8,287.3 L722.8,290.3 L723.7,293.2 L724.7,296.2 L725.6,299.1 L726.5,302.0 L727.3,304.9 L728.2,307.6 L729.3,311.0 L730.3,314.4 L731.4,317.7 L732.3,321.0 L733.2,324.1 L734.1,327.1 L734.8,330.0 L735.6,333.2 L736.2,335.6 L736.7,338.1 L737.2,341.5 L737.8,346.7 L738.0,348.9 L738.3,351.4 L738.5,354.1 L738.7,357.0 L739.0,360.0 L739.2,363.2 L739.5,366.5 L739.7,369.9 L740.0,373.3 L740.2,376.7 L740.4,380.2 L740.7,383.6 L740.9,386.9 L741.1,390.2 L741.3,393.4 L741.5,396.5 L741.7,399.6 L741.8,402.7 L742.0,405.9 L742.2,409.0 L742.3,412.1 L742.5,415.2 L742.6,418.3 L742.8,421.4 L742.9,424.5 L743.1,427.6 L743.2,430.8 L743.4,433.9 L743.5,437.0 L743.7,440.1 L743.9,443.2 L744.1,446.3 L744.2,449.4 L744.4,452.6 L744.6,455.7 L744.8,458.8 L745.0,461.9 L745.2,465.0 L745.4,468.1 L745.6,471.2 L745.8,474.3 L746.0,477.5 L746.1,480.6 L746.3,483.7 L746.5,486.8 L746.7,489.9 L746.8,493.0 L747.0,496.1 L747.2,499.3 L747.4,502.4 L747.5,505.5 L747.7,508.6 L747.9,511.7 L748.0,514.8 L748.2,517.9 L748.3,521.0 L748.5,524.2 L748.7,527.3 L748.8,530.4 L749.0,533.5 L749.2,536.6 L749.3,539.8 L749.5,543.0 L749.7,546.1 L749.8,549.3 L750.0,552.5 L750.2,555.7 L750.3,558.9 L750.5,562.0 L750.7,565.1 L750.8,568.2 L751.0,571.3 L751.1,574.3 L751.3,577.3 L751.4,580.2 L751.5,583.4 L751.7,586.3 L751.8,589.0 L751.9,591.6 L752.0,594.2 L752.1,596.7 L752.2,599.3 L752.3,602.1 L752.4,605.0 L752.6,608.2 L752.7,611.7 L752.8,615.6 L753.0,620.0 L753.1,622.4 L753.2,624.9 L753.3,627.5 L753.4,630.2 L753.5,633.0 L753.6,635.9 L753.7,638.9 L753.8,642.0 L753.9,645.1 L754.0,648.3 L754.1,651.5 L754.2,654.8 L754.3,658.1 L754.4,661.4 L754.5,664.8 L754.7,668.1 L754.8,671.5 L754.9,674.8 L755.0,678.1 L755.2,681.4 L755.3,684.6 L755.4,687.8 L755.6,691.0 L755.7,694.1 L755.9,697.1 L756.0,700.0 L756.2,703.2 L756.3,706.4 L756.5,709.6 L756.7,712.8 L756.9,715.9 L757.1,719.0 L757.3,722.0 L757.5,725.1 L757.7,728.1 L757.9,731.1 L758.1,734.1 L758.3,737.1 L758.5,740.1 L758.7,743.1 L758.9,746.0 L759.1,749.0 L759.4,752.0 L759.6,755.0 L759.8,758.0 L760.0,760.9 L760.2,763.9 L760.5,767.0 L760.7,770.0 L760.9,773.1 L761.2,776.2 L761.4,779.4 L761.7,782.5 L761.9,785.8 L762.2,789.0 L762.4,792.3 L762.7,795.5 L763.0,798.8 L763.2,802.0 L763.5,805.3 L763.8,808.5 L764.0,811.6 L764.3,814.8 L764.6,817.9 L764.8,820.9 L765.1,823.9 L765.3,826.8 L765.6,829.6 L765.8,832.3 L766.1,835.0 L766.3,837.6 L766.5,840.0 L766.9,844.1 L767.2,847.9 L767.5,851.4 L767.9,854.8 L768.2,857.9 L768.5,860.9 L768.7,863.8 L769.0,866.5 L769.3,869.2 L769.6,871.9 L769.9,874.6 L770.2,877.3 L770.5,880.0 L770.9,883.6 L771.3,887.1 L771.7,890.5 L772.1,893.8 L772.5,897.1 L772.9,900.3 L773.4,903.4 L773.8,906.5 L774.2,909.5 L774.7,912.5 L775.3,916.1 L775.9,919.5 L776.6,922.8 L777.2,926.0 L777.9,929.2 L778.6,932.4 L779.3,935.6 L780.0,938.8 L780.7,941.7 L781.3,944.6 L782.0,947.6 L782.7,950.5 L783.4,953.4 L784.1,956.3 L784.9,959.2 L785.7,962.2 L786.5,965.1 L787.4,968.0 L788.3,970.9 L789.2,973.9 L790.1,976.8 L791.1,979.7 L792.1,982.6 L793.2,985.6 L794.4,988.5 L795.7,991.4 L797.0,994.4 L798.4,997.3 L799.9,1000.2 L801.4,1003.3 L803.0,1006.2 L804.7,1009.1 L806.4,1012.1 L808.3,1014.8 L810.2,1017.7 L812.1,1020.0 L814.1,1022.5 L816.2,1024.9 L818.5,1027.3 L820.7,1029.8 L823.0,1032.0 L825.2,1034.3 L827.4,1036.3 L829.4,1038.4 L831.2,1040.2 L834.3,1042.9 L836.9,1045.2 L839.3,1047.2 L841.9,1048.6 L845.0,1050.3 L847.5,1051.7 L850.1,1053.0 L852.8,1054.6 L855.7,1055.7 L858.9,1057.0 L862.5,1058.5 L866.4,1059.3 L868.9,1060.4 L871.6,1061.0 L874.4,1061.6 L877.4,1062.6 L880.4,1063.1 L883.6,1064.1 L886.8,1064.9 L890.1,1065.2 L893.4,1066.0 L896.7,1066.8 L900.0,1067.2 L903.3,1067.7 L906.4,1068.2 L909.5,1068.6 L912.8,1068.8 L916.0,1069.2 L919.4,1069.0 L922.7,1069.4 L926.0,1069.7 L929.3,1069.6 L932.6,1069.8 L935.8,1069.8 L939.0,1070.5 L942.0,1070.2 L945.0,1070.5 L948.2,1070.9 L951.0,1070.6 L953.5,1071.2 L955.9,1070.7 L958.3,1070.7 L960.8,1071.0 L963.4,1071.1 L966.4,1071.5 L969.9,1071.6 L973.9,1071.5 L978.6,1071.4 L980.8,1071.5 L983.1,1071.3 L985.5,1071.7 L988.1,1071.4 L990.7,1071.4 L993.4,1071.7 L996.1,1071.4 L999.0,1071.5 L1001.9,1072.0 L1004.9,1071.4 L1007.9,1071.5 L1011.0,1071.6 L1014.2,1071.6 L1017.3,1071.8 L1020.6,1071.7 L1023.8,1071.8 L1027.1,1071.7 L1030.4,1071.7 L1033.7,1072.0 L1037.1,1071.8 L1040.4,1071.9 L1043.8,1072.2 L1047.1,1071.7 L1050.4,1071.7 L1053.7,1072.2 L1057.0,1072.0 L1059.9,1072.2 L1062.8,1071.7 L1065.9,1072.0 L1069.0,1072.2 L1072.1,1071.9 L1075.3,1072.2 L1078.6,1072.1 L1081.9,1071.9 L1085.2,1072.3 L1088.6,1071.9 L1091.9,1072.0 L1095.3,1072.1 L1098.6,1071.8 L1102.0,1072.2 L1105.3,1072.0 L1108.7,1072.0 L1112.0,1071.9 L1115.2,1072.2 L1118.4,1072.2 L1121.6,1072.1 L1124.7,1071.8 L1127.7,1071.7 L1130.7,1071.8 L1133.6,1071.4 L1136.4,1071.4 L1139.1,1072.0 L1141.7,1071.3 L1144.2,1071.8 L1146.6,1071.6 L1148.8,1071.7 L1153.2,1070.9 L1156.6,1070.9 L1159.1,1071.0 L1161.0,1070.2 L1162.6,1069.9 L1163.9,1069.8 L1165.4,1069.4 L1167.1,1069.1 L1169.3,1069.2 L1172.3,1068.5 L1176.3,1068.9 L1181.4,1068.5 L1188.0,1068.0 L1190.0,1068.6 L1192.0,1068.1 L1194.2,1068.2 L1196.4,1068.3 L1198.7,1068.0 L1201.1,1068.2 L1203.6,1067.9 L1206.2,1068.0 L1208.8,1068.6 L1211.5,1068.5 L1214.3,1068.3 L1217.1,1068.4 L1220.0,1068.6 L1223.0,1068.1 L1226.0,1068.4 L1229.0,1068.1 L1232.1,1068.1 L1235.3,1068.2 L1238.5,1068.3 L1241.7,1068.2 L1244.9,1068.3 L1248.2,1068.5 L1251.6,1068.7 L1254.9,1068.9 L1258.3,1069.0 L1261.6,1068.9 L1265.0,1068.7 L1268.5,1069.1 L1271.9,1068.6 L1275.3,1068.6 L1278.7,1069.1 L1282.2,1069.0 L1285.6,1068.7 L1289.0,1068.9 L1292.4,1068.9 L1295.8,1069.0 L1299.2,1069.0 L1302.5,1069.0 L1305.8,1069.3 L1309.1,1069.4 L1312.4,1069.2 L1315.7,1069.2 L1318.9,1069.1 L1322.0,1069.4 L1325.1,1069.6 L1328.2,1069.1 L1331.2,1069.4 L1334.2,1069.4 L1337.1,1069.4 L1340.0,1069.0 L1343.3,1069.3 L1346.5,1069.1 L1349.7,1069.1 L1352.9,1069.3 L1356.0,1069.4 L1359.1,1069.4 L1362.2,1069.4 L1365.3,1069.4 L1368.3,1069.2 L1371.4,1068.9 L1374.4,1069.4 L1377.4,1069.4 L1380.3,1069.4 L1383.3,1069.2 L1386.2,1068.8 L1389.2,1068.9 L1392.1,1068.8 L1395.0,1069.1 L1397.9,1069.1 L1400.8,1068.8 L1403.7,1069.3 L1406.6,1069.3 L1409.6,1069.2 L1412.5,1068.9 L1415.4,1068.7 L1418.3,1068.6 L1421.3,1069.0 L1424.2,1068.9 L1427.2,1068.6 L1430.2,1069.0 L1433.1,1068.7 L1436.2,1068.6 L1439.2,1068.6 L1442.2,1068.7 L1445.3,1068.5 L1448.4,1068.6 L1451.6,1068.2 L1454.7,1068.6 L1457.9,1068.3 L1461.1,1068.7 L1464.4,1068.2 L1467.7,1068.2 L1471.0,1068.3 L1473.8,1068.2 L1476.6,1068.3 L1479.5,1068.5 L1482.4,1068.0 L1485.3,1068.3 L1488.2,1068.3 L1491.2,1068.3 L1494.2,1068.0 L1497.3,1068.0 L1500.3,1067.9 L1503.4,1067.9 L1506.5,1067.7 L1509.6,1067.7 L1512.8,1067.8 L1515.9,1067.6 L1519.1,1067.7 L1522.3,1067.8 L1525.5,1067.6 L1528.7,1067.4 L1531.9,1067.7 L1535.1,1067.8 L1538.3,1067.3 L1541.5,1067.6 L1544.7,1067.6 L1547.9,1067.7 L1551.1,1067.5 L1554.3,1067.2 L1557.5,1067.1 L1560.7,1067.5 L1563.9,1067.1 L1567.1,1066.8 L1570.2,1067.4 L1573.4,1066.9 L1576.5,1066.9 L1579.6,1066.9 L1582.7,1066.8 L1585.7,1067.1 L1588.8,1066.8 L1591.8,1066.9 L1594.8,1066.8 L1597.7,1067.1 L1600.7,1066.5 L1603.6,1066.9 L1606.4,1066.5 L1609.3,1066.5 L1612.1,1066.8 L1614.8,1066.7 L1617.6,1066.4 L1620.2,1066.8 L1622.9,1067.0 L1625.5,1066.8 L1628.0,1066.7 L1631.7,1066.9 L1635.3,1067.0 L1638.9,1066.5 L1642.3,1066.6 L1645.7,1067.1 L1649.1,1067.0 L1652.4,1066.6 L1655.6,1066.9 L1658.7,1067.1 L1661.8,1066.9 L1664.9,1067.0 L1667.9,1067.0 L1670.9,1066.8 L1673.8,1066.8 L1676.7,1066.8 L1679.6,1067.2 L1682.5,1066.9 L1685.3,1067.3 L1688.1,1067.2 L1690.9,1067.3 L1693.6,1067.7 L1696.4,1067.3 L1699.2,1067.4 L1701.9,1067.4 L1704.7,1067.3 L1707.4,1067.4 L1710.2,1067.6 L1713.0,1067.9 L1715.8,1067.4 L1718.6,1068.0 L1721.4,1067.9 L1724.2,1067.4 L1727.1,1067.9 L1730.0,1067.7 L1733.0,1067.8 L1736.1,1067.5 L1739.3,1067.8 L1742.5,1067.8 L1745.8,1068.0 L1749.2,1067.9 L1752.6,1067.9 L1756.1,1067.9 L1759.6,1067.6 L1763.1,1067.4 L1766.6,1067.7 L1770.1,1067.5 L1773.7,1067.4 L1777.2,1067.5 L1780.7,1067.7 L1784.2,1067.7 L1787.6,1067.7 L1791.1,1067.9 L1794.4,1067.3 L1797.8,1067.6 L1801.0,1067.2 L1804.2,1067.6 L1807.3,1067.4 L1810.4,1067.2 L1813.3,1067.3 L1816.2,1067.5 L1818.9,1067.3 L1821.5,1067.6 L1824.0,1067.2 L1826.4,1067.2 L1828.6,1067.5 L1830.7,1067.3 L1832.6,1066.9 L1834.4,1067.4 L1836.0,1067.2" fill="none" stroke="#000" stroke-width="8.2" stroke-linejoin="round" stroke-linecap="round"/>
</g></svg></body></html>
